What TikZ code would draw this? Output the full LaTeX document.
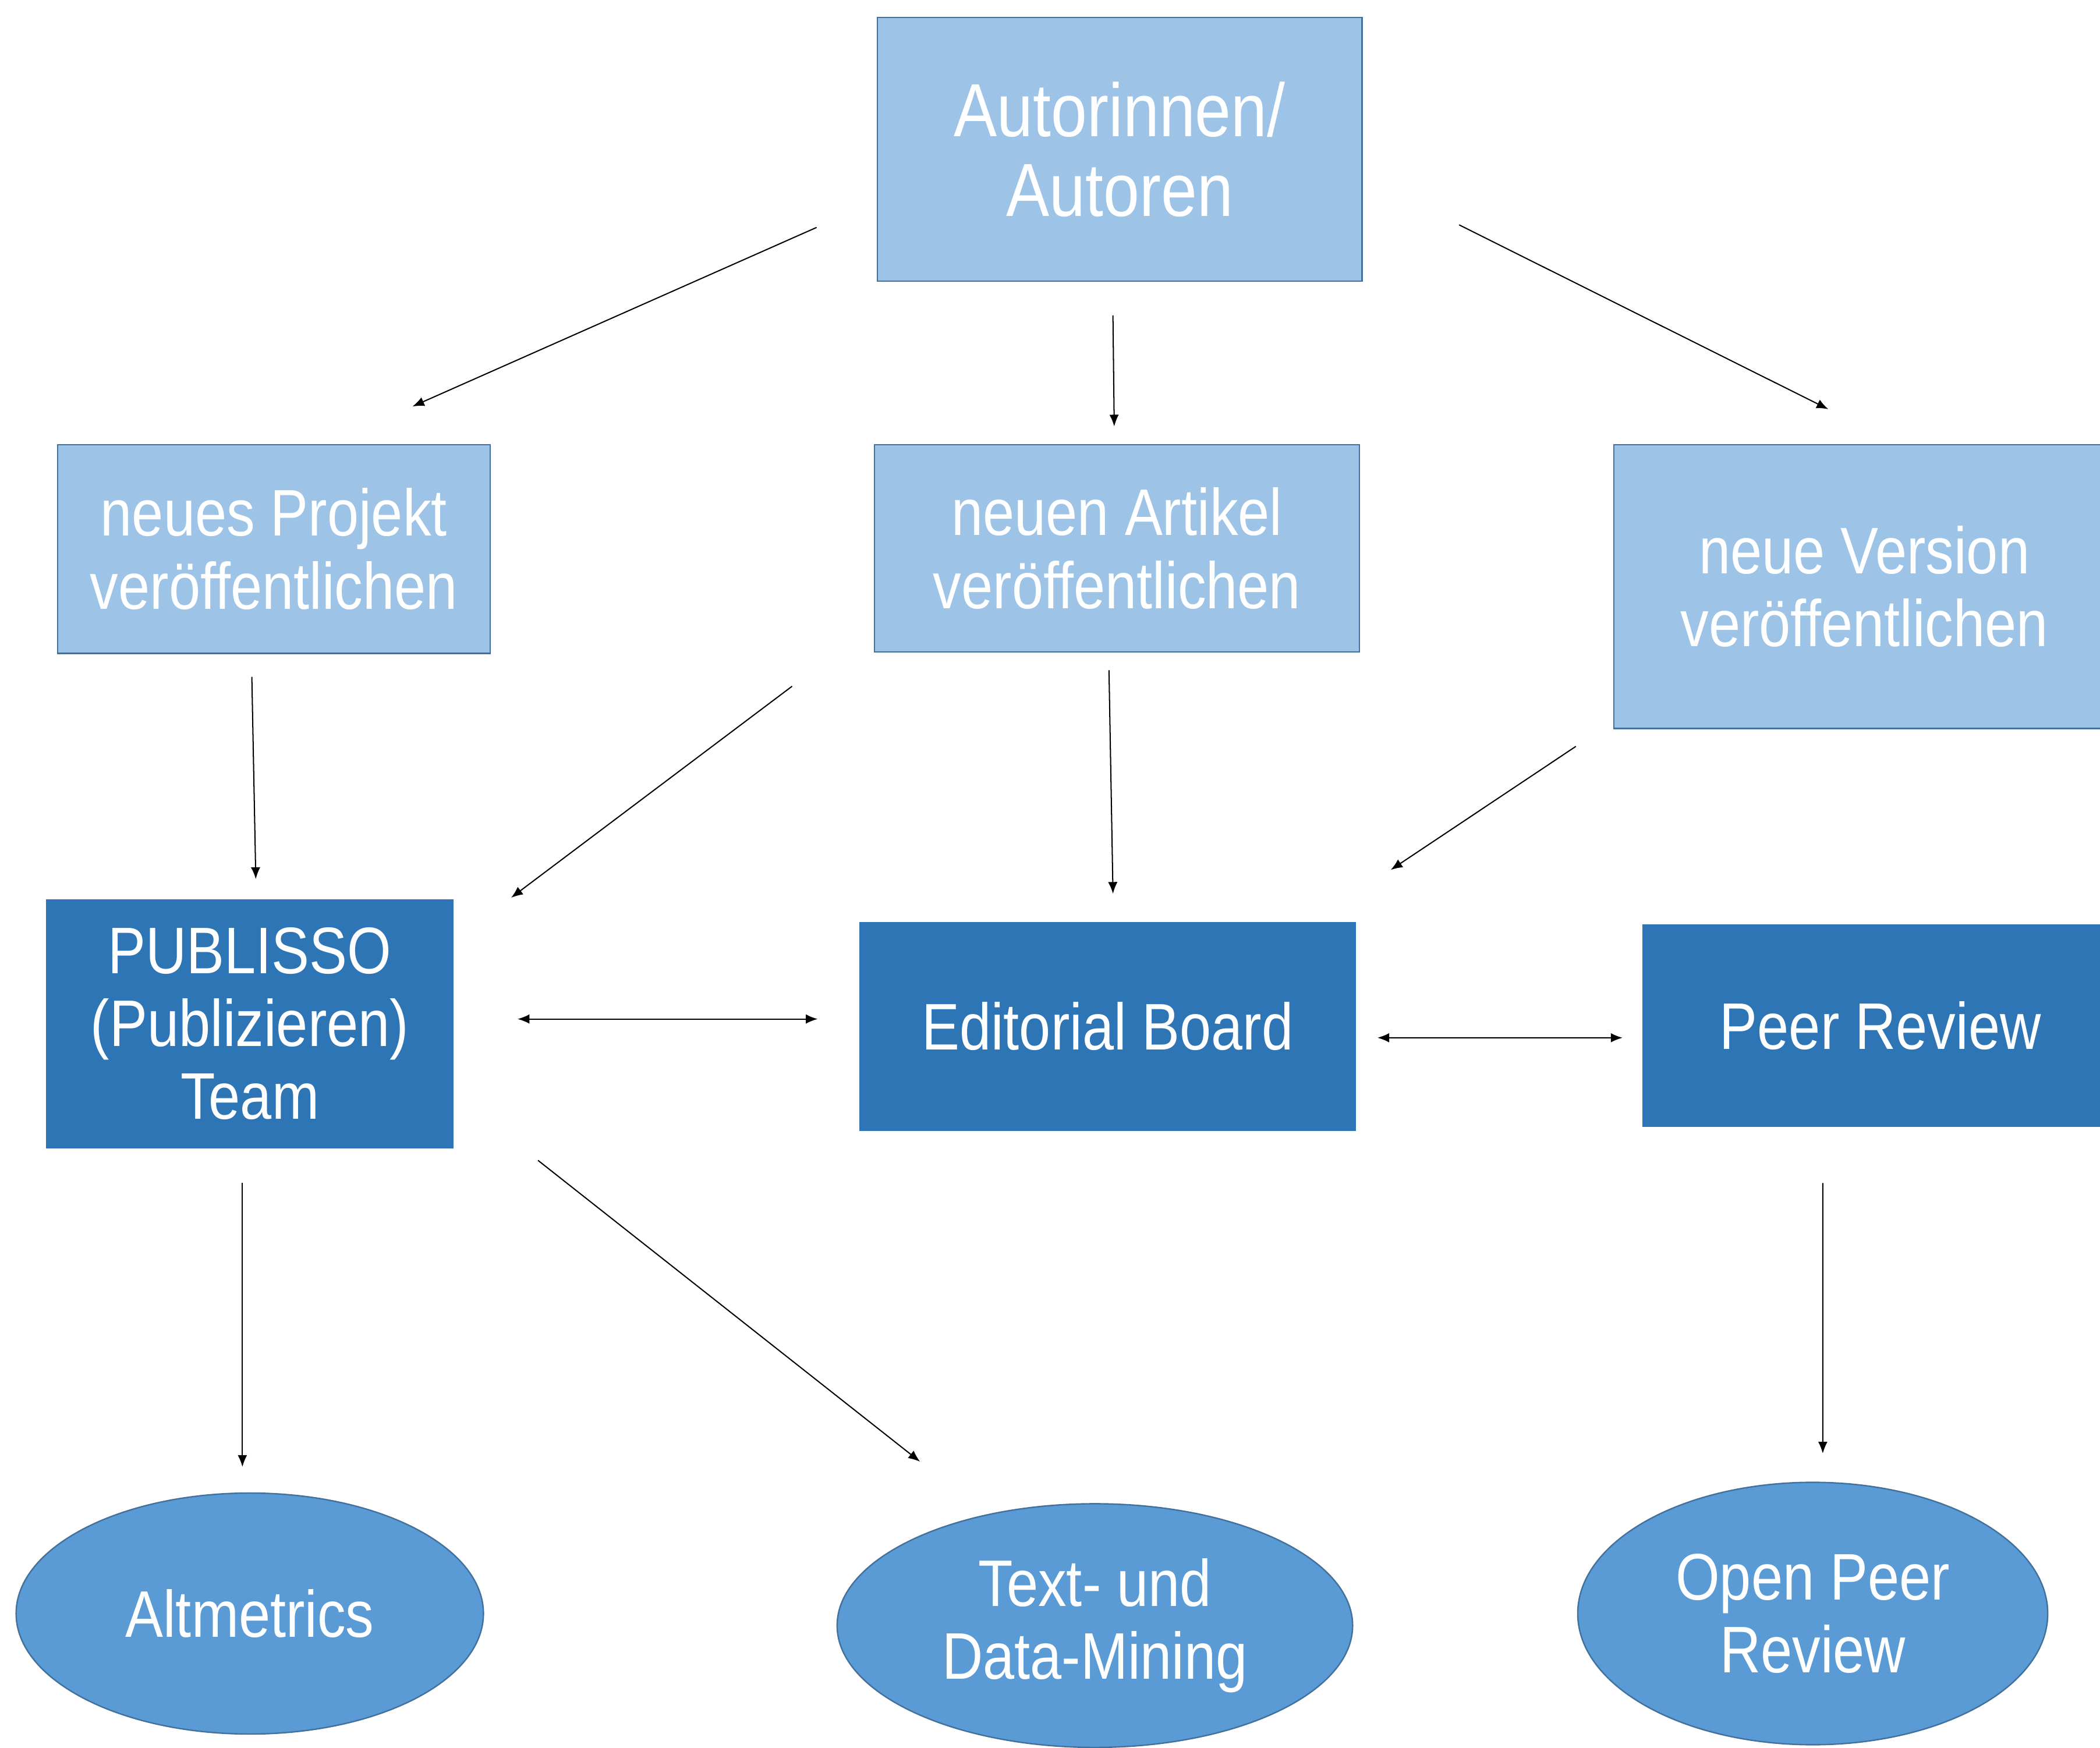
\documentclass[tikz,border=0pt]{standalone}
\usepackage{fontspec}
\setmainfont[FakeStretch=0.86]{Liberation Sans}
\usetikzlibrary{shapes.geometric,arrows.meta,calc}
\definecolor{boxlight}{HTML}{9DC3E6}
\definecolor{boxdark}{HTML}{2E75B6}
\definecolor{ovalblue}{HTML}{5B9BD5}
\definecolor{rimblue}{HTML}{41719C}
\begin{document}
\begin{tikzpicture}[x=0.02cm,y=-0.02cm,
    topbox/.style={draw=rimblue, fill=boxlight, line width=0.6pt, text=white, align=center, inner sep=0pt, font=\fontsize{28}{31}\selectfont},
    teambox/.style={draw=boxdark, fill=boxdark, line width=0.6pt, text=white, align=center, inner sep=0pt, font=\fontsize{28}{31}\selectfont},
    oval/.style={ellipse, draw=rimblue, fill=ovalblue, line width=0.6pt, text=white, align=center, inner sep=0pt, font=\fontsize{28}{31}\selectfont},
    link/.style={-{Latex[length=5pt,width=4pt]}, line width=0.5pt},
    both/.style={{Latex[length=5pt,width=4pt]}-{Latex[length=5pt,width=4pt]}, line width=0.5pt}]
        \useasboundingbox (0,0) rectangle (1568,1305);

        \node[topbox, minimum width=7.24cm, minimum height=3.94cm, font=\fontsize{32}{34}\selectfont] (auth) at (836,111.5) {Autorinnen/\\Autoren};
        \node[topbox, minimum width=6.46cm, minimum height=3.12cm] (proj) at (204.5,410) {neues Projekt\\veröffentlichen};
        \node[topbox, minimum width=7.24cm, minimum height=3.10cm] (art) at (834,409.5) {neuen Artikel\\veröffentlichen};
        \node[topbox, minimum width=7.48cm, minimum height=4.24cm] (vers) at (1392,438) {neue Version\\veröffentlichen};

        \node[teambox, minimum width=6.06cm, minimum height=3.70cm] (pub) at (186.5,764.5) {PUBLISSO\\(Publizieren)\\Team};
        \node[teambox, minimum width=7.40cm, minimum height=3.10cm] (edit) at (827,766.5) {Editorial Board};
        \node[teambox, minimum width=7.08cm, minimum height=3.00cm] (peer) at (1404,766) {Peer Review};

        \node[oval, minimum width=6.98cm, minimum height=3.60cm] (alt) at (186.5,1205) {Altmetrics};
        \node[oval, minimum width=7.70cm, minimum height=3.64cm] (tdm) at (817.5,1214) {Text- und\\Data-Mining};
        \node[oval, minimum width=7.02cm, minimum height=3.92cm] (opr) at (1353.5,1205) {Open Peer\\Review};

        % authors to the three kinds of publication
        \draw[link, shorten <=0.98cm, shorten >=1.38cm] ($(auth.west)+(0,38.5)$) -- ($(proj.north)+(40.4,0)$);
        \draw[link, shorten <=0.50cm, shorten >=0.26cm] ($(auth.south)+(-5.3,0)$) -- ($(art.north)+(-1.9,0)$);
        \draw[link, shorten <=1.61cm, shorten >=1.16cm] ($(auth.east)+(0,20.5)$) -- ($(vers.north)+(25,0)$);

        % publication to team and board
        \draw[link, shorten <=0.34cm, shorten >=0.30cm] ($(proj.south)+(-16.8,0)$) -- ($(pub.north)+(4.8,0)$);
        \draw[link, shorten <=1.53cm, shorten >=1.08cm] ($(art.south west)+(0,-21)$) -- ($(pub.north east)+(0,31.4)$);
        \draw[link, shorten <=0.26cm, shorten >=0.42cm] ($(art.south)+(-6.2,0)$) -- ($(edit.north)+(4.4,0)$);
        \draw[link, shorten <=0.67cm, shorten >=1.40cm] ($(vers.south west)+(0,-5.7)$) -- ($(edit.north east)+(-32.3,0)$);

        % middle row
        \draw[both, shorten <=0.96cm, shorten >=0.62cm] ($(pub.east)+(0,-3.5)$) -- ($(edit.west)+(0,-5.5)$);
        \draw[both, shorten <=0.32cm, shorten >=0.30cm] ($(edit.east)+(0,8.5)$) -- ($(peer.west)+(0,9)$);

        % results
        \draw[link, shorten <=0.52cm, shorten >=0.38cm] ($(pub.south)+(-5.5,0)$) -- ($(alt.north)+(-5.5,0)$);
        \draw[link, shorten <=1.61cm, shorten >=1.27cm] ($(pub.south east)+(0,-40.8)$) -- ($(tdm.north)+(-80.7,8.4)$);
        \draw[link, shorten <=0.84cm, shorten >=0.42cm] ($(peer.south)+(-43,0)$) -- ($(opr.north)+(7.5,0)$);
\end{tikzpicture}
\end{document}
